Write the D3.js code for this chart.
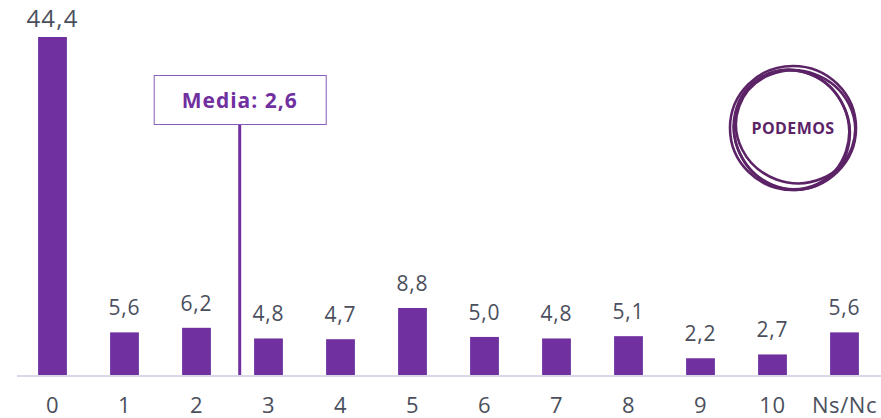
<!DOCTYPE html>
<html>
<head>
<meta charset="utf-8">
<script src="https://cdn.jsdelivr.net/npm/d3@7"></script>
<style>
  html, body { margin: 0; padding: 0; background: #fff; }
  svg { display: block; }
</style>
</head>
<body>
<svg id="chart" width="881" height="418"></svg>
<script>
// Valoración de Podemos (0-10): porcentaje de respuestas por puntuación
const categories = ["0", "1", "2", "3", "4", "5", "6", "7", "8", "9", "10", "Ns/Nc"];
const values = [44.4, 5.6, 6.2, 4.8, 4.7, 8.8, 5.0, 4.8, 5.1, 2.2, 2.7, 5.6];
const meanValue = 2.6;
const meanLabel = "Media: 2,6";
const logoText = "PODEMOS";

const W = 881, H = 418;
const baseY = 375;
const barColor = "#7030a0";
const textColor = "#4b4f5d";
const fmt = v => d3.format(".1f")(v).replace(".", ",");
const maxVal = d3.max(values);

const svg = d3.select("#chart");

const x = d3.scaleBand()
  .domain(categories)
  .range([16.5, 880.5])
  .paddingInner(0.6)
  .paddingOuter(0.3);

const y = d3.scaleLinear()
  .domain([0, 44.4])
  .range([baseY, 37]);

// position of a numeric score along the category axis
const xScore = d3.scaleLinear()
  .domain([0, 1])
  .range([x("0") + x.bandwidth() / 2, x("1") + x.bandwidth() / 2]);

// baseline
svg.append("line")
  .attr("x1", 17).attr("x2", W)
  .attr("y1", baseY + 1).attr("y2", baseY + 1)
  .attr("stroke", "#d9d8e6")
  .attr("stroke-width", 2);

// bars
svg.append("g").selectAll("rect")
  .data(values)
  .join("rect")
  .attr("x", (d, i) => x(categories[i]))
  .attr("width", x.bandwidth())
  .attr("y", d => y(d))
  .attr("height", d => baseY - y(d))
  .attr("fill", barColor);

// value labels (the tallest bar's label sits closer so it stays inside the frame)
svg.append("g").selectAll("text")
  .data(values)
  .join("text")
  .attr("x", (d, i) => x(categories[i]) + x.bandwidth() / 2)
  .attr("y", d => d === maxVal ? y(d) - 10 : y(d) - 17)
  .attr("text-anchor", "middle")
  .attr("font-family", "'Open Sans', sans-serif")
  .attr("font-size", d => d === maxVal ? 24 : 21)
  .attr("letter-spacing", d => d === maxVal ? 1.2 : 0.8)
  .attr("fill", textColor)
  .text(d => fmt(d));

// category labels
const xAxis = d3.axisBottom(x).tickSize(0).tickPadding(0);
const gx = svg.append("g")
  .attr("transform", `translate(0, ${baseY})`)
  .call(xAxis);
gx.select(".domain").remove();
gx.selectAll("text")
  .attr("y", 38)
  .attr("dy", 0)
  .attr("font-family", "'Open Sans', sans-serif")
  .attr("font-size", 22)
  .attr("letter-spacing", 0.6)
  .attr("fill", textColor);

// mean marker
const mx = xScore(meanValue);
svg.append("line")
  .attr("x1", mx).attr("x2", mx)
  .attr("y1", 124).attr("y2", baseY)
  .attr("stroke", barColor)
  .attr("stroke-width", 3);

const boxW = 172, boxH = 49;
svg.append("rect")
  .attr("x", mx - boxW / 2 + 0.5)
  .attr("y", 75.5)
  .attr("width", boxW)
  .attr("height", boxH)
  .attr("fill", "#fff")
  .attr("stroke", "#8a5cba")
  .attr("stroke-width", 1);

svg.append("text")
  .attr("x", mx)
  .attr("y", 108)
  .attr("text-anchor", "middle")
  .attr("font-family", "'Open Sans', sans-serif")
  .attr("font-weight", 700)
  .attr("font-size", 21)
  .attr("letter-spacing", 1)
  .attr("fill", barColor)
  .text(meanLabel);

// party logo: interlaced rings with the name in the middle
const logo = svg.append("g").attr("transform", "translate(793, 128)");
const rings = [
  { rx: 63, ry: 62, rot: 0, dx: 0, dy: 0 },
  { rx: 60, ry: 56, rot: 20, dx: 2, dy: -2 },
  { rx: 57, ry: 60, rot: -25, dx: -2, dy: 1 },
  { rx: 61, ry: 57, rot: 60, dx: 1, dy: 2 }
];
logo.selectAll("ellipse")
  .data(rings)
  .join("ellipse")
  .attr("cx", d => d.dx)
  .attr("cy", d => d.dy)
  .attr("rx", d => d.rx)
  .attr("ry", d => d.ry)
  .attr("transform", d => `rotate(${d.rot})`)
  .attr("fill", "none")
  .attr("stroke", "#5c2367")
  .attr("stroke-width", 2.6);
logo.append("text")
  .attr("x", 0)
  .attr("y", 6)
  .attr("text-anchor", "middle")
  .attr("font-family", "'Open Sans', sans-serif")
  .attr("font-weight", 700)
  .attr("font-size", 16)
  .attr("letter-spacing", 0.4)
  .attr("fill", "#5c2367")
  .text(logoText);
</script>
</body>
</html>
